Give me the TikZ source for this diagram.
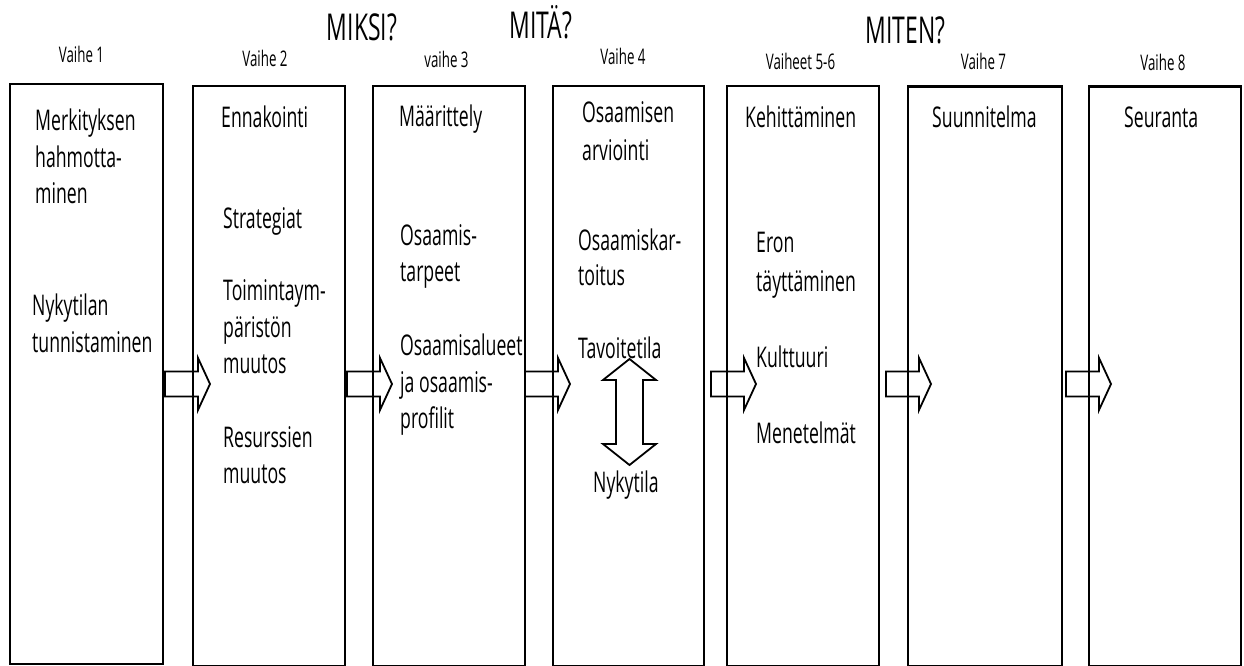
\documentclass[tikz,border=0pt]{standalone}
\usepackage{fontspec}
\setmainfont[FakeStretch=0.62]{Open Sans}
\begin{document}
\begin{tikzpicture}[x=1pt,y=-1pt,
  stagebox/.style={draw=black, line width=2.8pt, inner sep=0pt, minimum width=#1, minimum height=580pt},
  lab/.style={anchor=base west, inner sep=0pt, font=\fontsize{28.5}{34}\selectfont},
  phase/.style={anchor=base, inner sep=0pt, font=\fontsize{21.5}{24}\selectfont},
  big/.style={anchor=base, inner sep=0pt, font=\fontsize{37}{40}\selectfont},
  blockarrow/.pic={\draw[line width=1.8pt, line join=miter]
     (0,-12.5) -- (33,-12.5) -- (33,-26) -- (45,0) -- (33,26) -- (33,12.5) -- (0,12.5) -- cycle;}
]
\useasboundingbox (0,0) rectangle (1244,666);
% boxes
\node[stagebox=153pt] (b1) at (86.5,374) {};
\node[stagebox=152pt] (b2) at (269,376) {};
\node[stagebox=152pt] (b3) at (449,376) {};
\node[stagebox=151pt] (b4) at (628.5,376) {};
\node[stagebox=152pt] (b5) at (803,376) {};
\node[stagebox=154pt] (b6) at (985,376.5) {};
\node[stagebox=152pt] (b7) at (1165,376.5) {};
% block arrows
\pic at (165,384) {blockarrow};
\pic at (347,384) {blockarrow};
\pic at (525,384) {blockarrow};
\pic at (711,384) {blockarrow};
\pic at (886,384) {blockarrow};
\pic at (1066,384) {blockarrow};
% double arrow
\coordinate (dtop) at (629.5,359);
\coordinate (dbot) at (629.5,465);
\draw[line width=1.8pt, line join=miter] (dtop) -- ++(26.5,21) -- ++(-13,0) -- ++(0,64) -- ++(13,0)
  -- (dbot) -- ++(-26.5,-21) -- ++(13,0) -- ++(0,-64) -- ++(-13,0) -- cycle;
% headings
\node[big] (q1) at (362,41) {MIKSI?};
\node[big] (q2) at (541,39) {MITÄ?};
\node[big] (q3) at (905.5,44) {MITEN?};
\node[phase] (p1) at (81.5,63) {Vaihe 1};
\node[phase] (p2) at (265,67) {Vaihe 2};
\node[phase] (p3) at (446.5,68) {vaihe 3};
\node[phase] (p4) at (623,65) {Vaihe 4};
\node[phase] (p5) at (800.5,70) {Vaiheet 5-6};
\node[phase] (p7) at (983.5,70) {Vaihe 7};
\node[phase] (p8) at (1163,71) {Vaihe 8};
% box 1
\node[lab] (t11) at (35,131) {Merkityksen};
\node[lab] (t12) at (35,167) {hahmotta-};
\node[lab] (t13) at (35,203) {minen};
\node[lab] (t14) at (32,315) {Nykytilan};
\node[lab] (t15) at (32,352) {tunnistaminen};
% box 2
\node[lab] (t21) at (221,128) {Ennakointi};
\node[lab] (t22) at (223,228) {Strategiat};
\node[lab] (t23) at (223,300) {Toimintaym-};
\node[lab] (t24) at (223,337) {päristön};
\node[lab] (t25) at (223,373) {muutos};
\node[lab] (t26) at (223,447) {Resurssien};
\node[lab] (t27) at (223,483) {muutos};
% box 3
\node[lab] (t31) at (399,127) {Määrittely};
\node[lab] (t32) at (400,245) {Osaamis-};
\node[lab] (t33) at (400,281) {tarpeet};
\node[lab] (t34) at (400,355) {Osaamisalueet};
\node[lab] (t35) at (400,392) {ja osaamis-};
\node[lab] (t36) at (400,428) {profilit};
% box 4
\node[lab] (t41) at (582,123) {Osaamisen};
\node[lab] (t42) at (582,160) {arviointi};
\node[lab] (t43) at (578,250) {Osaamiskar-};
\node[lab] (t44) at (578,285) {toitus};
\node[lab] (t45) at (578,358) {Tavoitetila};
\node[lab] (t46) at (593,492) {Nykytila};
% box 5
\node[lab] (t51) at (745,128) {Kehittäminen};
\node[lab] (t52) at (756,252) {Eron};
\node[lab] (t53) at (756,291) {täyttäminen};
\node[lab] (t54) at (756,367) {Kulttuuri};
\node[lab] (t55) at (756,443) {Menetelmät};
% box 6, 7
\node[lab] (t61) at (932,128) {Suunnitelma};
\node[lab] (t71) at (1124,128) {Seuranta};
\end{tikzpicture}
\end{document}
